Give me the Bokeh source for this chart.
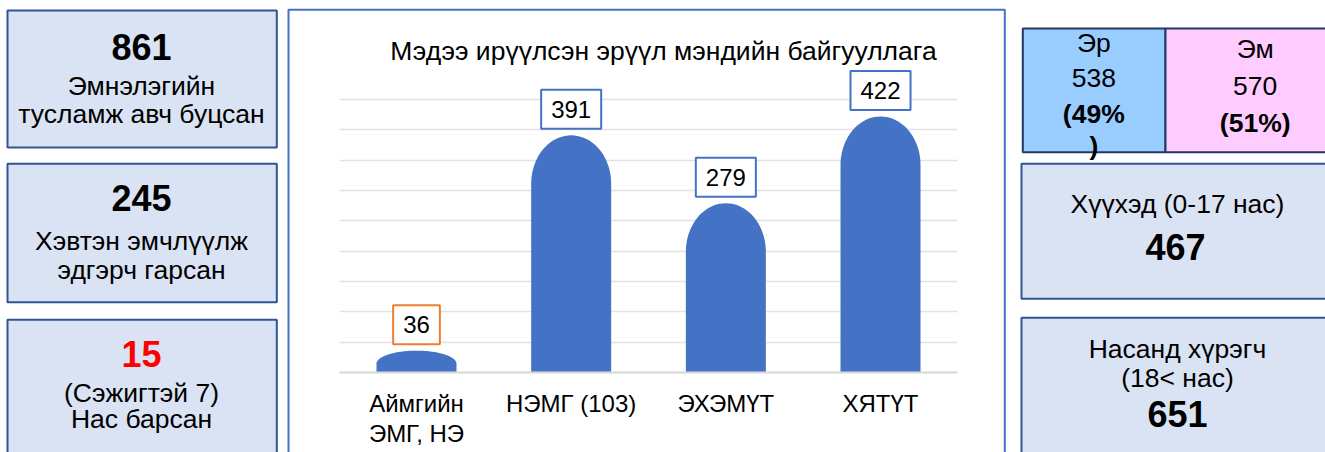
import numpy as np
from bokeh.plotting import figure
from bokeh.layouts import row
from bokeh.models import Range1d, FixedTicker, BoxAnnotation
from bokeh.embed import file_html
from bokeh.resources import INLINE
from bokeh.core.properties import value

FONT = "Liberation Sans"

# ---------------- data ----------------
chart_title = "Мэдээ ирүүлсэн эрүүл мэндийн байгууллага"
categories = ["Аймгийн\nЭМГ, НЭ", "НЭМГ (103)", "ЭХЭМҮТ", "ХЯТҮТ"]
counts = [36, 391, 279, 422]
label_border_colors = ["#ED7D31", "#4472C4", "#4472C4", "#4472C4"]
y_ticks = [0, 50, 100, 150, 200, 250, 300, 350, 400, 450]

left_values = ["861", "245", "15"]
left_value_colors = ["#000000", "#000000", "#FF0000"]
left_captions = [["Эмнэлэгийн", "тусламж авч буцсан"],
                 ["Хэвтэн эмчлүүлж", "эдгэрч гарсан"],
                 ["(Сэжигтэй 7)", "Нас барсан"]]

sex_names = ["Эр", "Эм"]
sex_counts = ["538", "570"]
sex_shares = [["(49%", ")"], ["(51%)"]]
sex_fills = ["#99CCFF", "#FFCCFF"]

age_groups = [["Хүүхэд (0-17 нас)"], ["Насанд хүрэгч", "(18< нас)"]]
age_counts = ["467", "651"]

# ---------------- layout constants ----------------
H = 452
LW, CW, RW = 286, 721, 318
BOX_FILL = "#DAE3F3"
BOX_LINE = "#2F5597"
TXT = "26.5px"
BIG = "36px"


def blank(width):
    f = figure(width=width, height=H, x_range=Range1d(0, width), y_range=Range1d(H, 0),
               output_backend="svg", toolbar_location=None, min_border=0,
               x_axis_location=None, y_axis_location=None)
    f.grid.visible = False
    f.outline_line_color = None
    f.background_fill_color = "white"
    f.border_fill_color = "white"
    return f


def put_text(f, xs, ys, texts, size, bold=False, colors="#000000"):
    f.text(x=xs, y=ys, text=texts, text_color=colors, text_align="center",
           text_baseline="middle", text_font=value(FONT), text_font_size=size,
           text_font_style="bold" if bold else "normal")


def flatten(xs, groups, group_ys):
    ox, oy, ot = [], [], []
    for x, lines, ys in zip(xs, groups, group_ys):
        for t, y in zip(lines, ys):
            ox.append(x); oy.append(y); ot.append(t)
    return ox, oy, ot


# ---------------- left panel ----------------
left = blank(LW)
left.quad(left=7, right=276.3, top=[10, 163.3, 319.3], bottom=[147, 301.7, 470],
          fill_color=BOX_FILL, line_color=BOX_LINE, line_width=2)
put_text(left, [141] * 3, [46.1, 197.8, 353.8], left_values, BIG, True, left_value_colors)
lx, ly, lt = flatten([141] * 3, left_captions, [[85.5, 113.8], [240.5, 269.8], [392.2, 418.2]])
put_text(left, lx, ly, lt, TXT)

# ---------------- center chart ----------------
XU = 154.67          # px per category
X0 = 130             # px of first category
YU = 273 / 450       # px per unit
Y0 = 372             # px of zero


def px2x(p):
    return (p - X0) / XU


def px2y(p):
    return (Y0 - p) / YU


n = len(categories)
center = figure(width=CW, height=H, x_range=Range1d(px2x(0), px2x(CW)),
                y_range=Range1d(px2y(H), px2y(0)), output_backend="svg",
                toolbar_location=None, min_border=0, y_axis_location=None)
center.outline_line_color = None
center.background_fill_color = "white"
center.border_fill_color = "white"
center.xgrid.visible = False
center.ygrid.ticker = FixedTicker(ticks=y_ticks)
center.ygrid.grid_line_color = "#E2E2E2"
center.ygrid.grid_line_width = 1.5
try:
    center.ygrid.cross_bounds = (-0.5, n - 0.5)
except Exception:
    center.ygrid.visible = False
    center.segment(x0=-0.5, x1=n - 0.5, y0=y_ticks, y1=y_ticks,
                   line_color="#E2E2E2", line_width=1.5)

ax = center.xaxis[0]
ax.fixed_location = 0
ax.ticker = FixedTicker(ticks=list(range(n)))
ax.major_label_overrides = {i: c for i, c in enumerate(categories)}
ax.bounds = (-0.5, n - 0.5)
ax.axis_line_color = "#D9D9D9"
ax.axis_line_width = 2
ax.major_tick_line_color = None
ax.minor_tick_line_color = None
ax.major_tick_out = 0
ax.major_tick_in = 0
ax.major_label_standoff = 17
ax.major_label_text_font = FONT
ax.major_label_text_font_size = "24px"
ax.major_label_text_color = "#000000"
ax.major_label_text_line_height = 1.12

BAR_W = 80 / XU
DOME = 80
theta = np.linspace(np.pi, 0, 41)
bxs, bys = [], []
for i, v in enumerate(counts):
    r = min(DOME, 0.6 * v)
    hx = BAR_W / 2
    bxs.append([i - hx] + list(i + hx * np.cos(theta)) + [i + hx])
    bys.append([0] + list(v - r + r * np.sin(theta)) + [0])
center.patches(bxs, bys, fill_color="#4472C4", line_color=None)

center.text(x=list(range(n)), y=counts, text=[str(v) for v in counts], y_offset=-26,
            text_align="center", text_baseline="middle", text_font=value(FONT),
            text_font_size="24px", text_color="#000000",
            border_line_color=label_border_colors, border_line_width=2,
            background_fill_color="white", padding=(10, 11))

center.text(x=[px2x(377)], y=[px2y(50.5)], text=[chart_title], text_align="center",
            text_baseline="middle", text_font=value(FONT), text_font_size=TXT,
            text_color="#000000")

center.add_layout(BoxAnnotation(left=px2x(2), right=px2x(718.3), top=px2y(9.3),
                                bottom=px2y(H + 30), fill_color=None, fill_alpha=0,
                                line_color="#4472C4", line_alpha=1.0, line_width=2))

# ---------------- right panel ----------------
right = blank(RW)
right.quad(left=[15.3, 158], right=[158, 340], top=28, bottom=151.7,
           fill_color=sex_fills, line_color="#1F3864", line_width=2)
right.quad(left=14, right=340, top=[163.3, 317.3], bottom=[298.3, 470],
           fill_color=BOX_FILL, line_color=BOX_LINE, line_width=2)
sx = [86.3, 247.7]
put_text(right, sx, [42.2, 48.8], sex_names, TXT)
put_text(right, sx, [77.8, 85.5], sex_counts, TXT)
rx, ry, rt = flatten(sx, sex_shares, [[113.8, 145], [122.2]])
put_text(right, rx, ry, rt, TXT, True)

gx, gy, gt = flatten([170, 170], age_groups, [[203.8], [348.8, 377.2]])
put_text(right, gx, gy, gt, TXT)
put_text(right, [168, 170], [246.4, 413.1], age_counts, BIG, True)

layout = row(left, center, right, spacing=0)
open("out.html", "w").write(file_html(layout, INLINE))
